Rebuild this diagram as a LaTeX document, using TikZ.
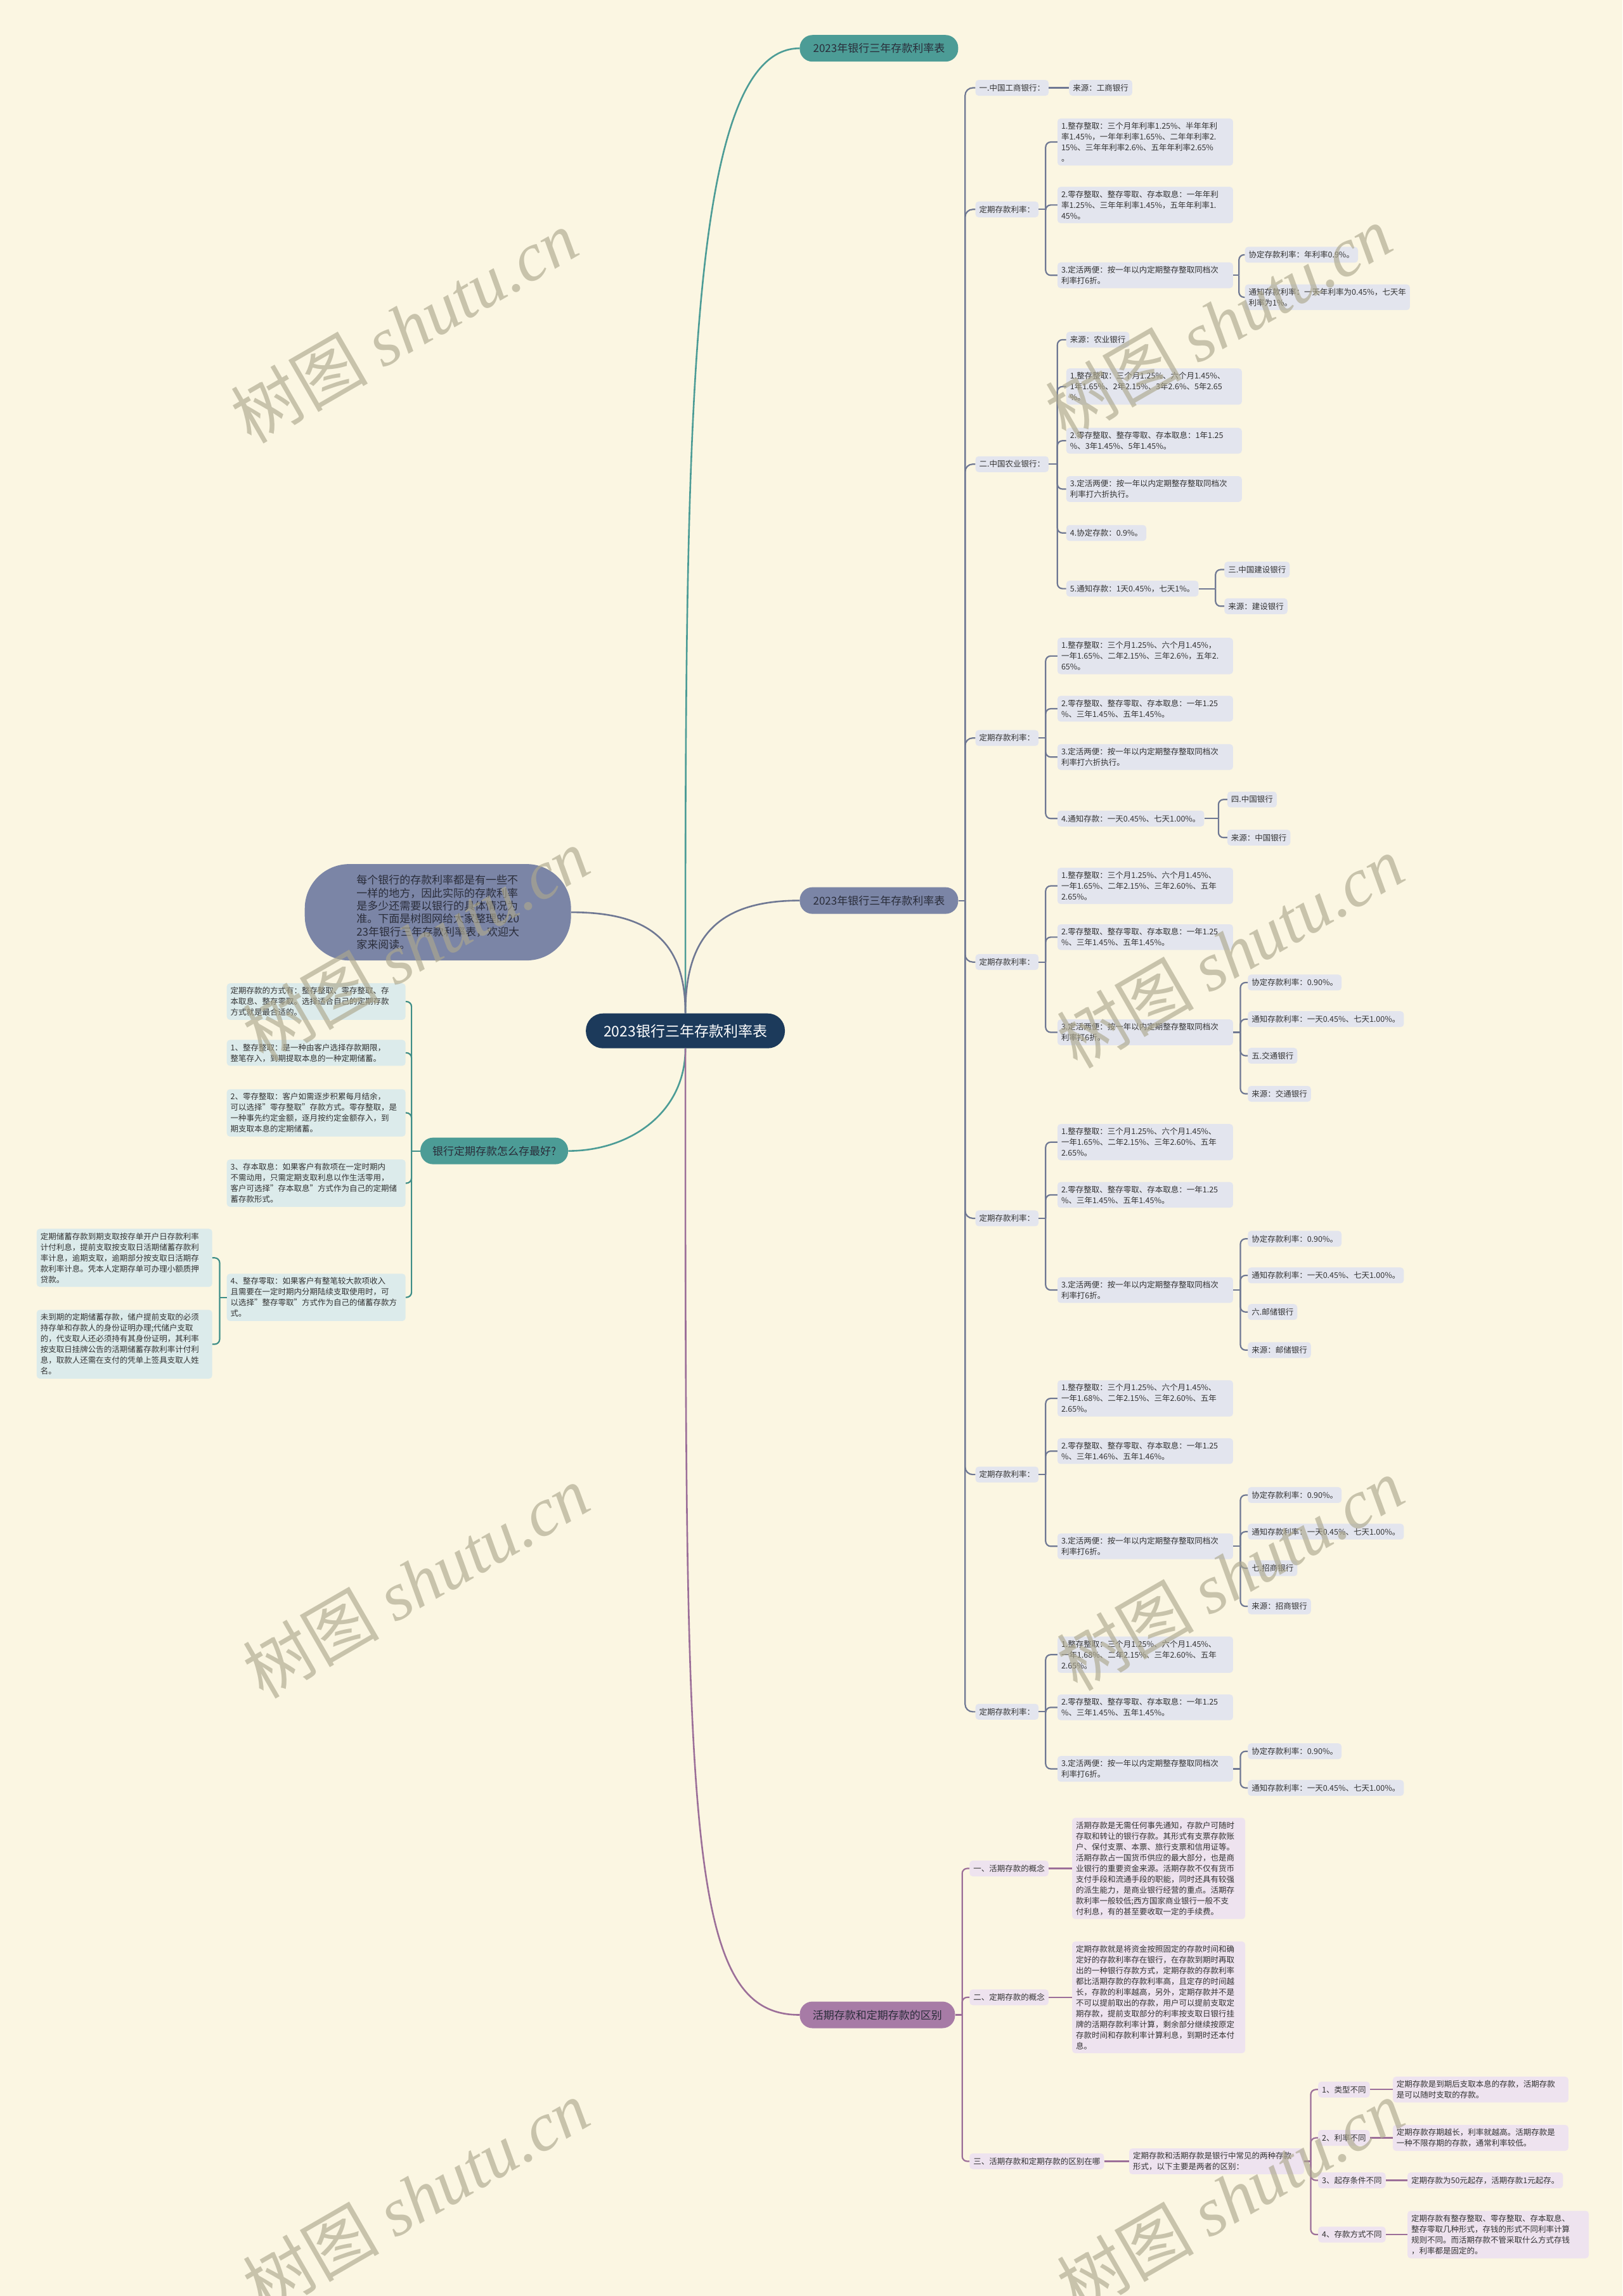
\documentclass[tikz,border=0pt]{standalone}
\usepackage{fontspec}
\setmainfont{Noto Sans CJK SC}
\newfontfamily\wmlat{Liberation Serif}
\definecolor{bgc}{HTML}{FBF6E2}
\definecolor{navy}{HTML}{1C3A5B}
\definecolor{cTeal}{HTML}{4C9C96}
\definecolor{cSlate}{HTML}{7B85A6}
\definecolor{cPurp}{HTML}{A77BA6}
\definecolor{lBlue}{HTML}{E3E5EE}
\definecolor{lPurp}{HTML}{EEE3EF}
\definecolor{lTeal}{HTML}{DCEBEB}
\definecolor{lnBlue}{HTML}{6F7893}
\definecolor{lnPurp}{HTML}{9C6F99}
\definecolor{lnTeal}{HTML}{3E8E88}
\definecolor{txt}{HTML}{333333}
\definecolor{brtxt}{HTML}{2A2D3A}
\definecolor{wm}{HTML}{ADA88E}
\begin{document}
\begin{tikzpicture}[x=2.3105pt,y=-2.3105pt,
  every node/.style={inner sep=0pt},
  base/.style={font=\fontsize{12.5}{17}\selectfont, text=txt, rounded corners=5pt, inner xsep=6pt, inner ysep=6pt, minimum height=25pt, align=left},
  bl/.style={base, fill=lBlue, anchor=west},
  pl/.style={base, fill=lPurp, anchor=west},
  tl/.style={base, fill=lTeal, anchor=east},
  tw/.style={text width=#1pt},
  cb/.style={draw=lnBlue, line width=2.2pt, rounded corners=8pt},
  cp/.style={draw=lnPurp, line width=2.2pt, rounded corners=8pt},
  ct/.style={draw=lnTeal, line width=2.2pt, rounded corners=8pt},
  br/.style={font=\fontsize{17}{20}\selectfont, text=brtxt, rounded corners=20pt, minimum height=42pt, inner xsep=18pt, anchor=west},
  wmark/.style={rotate=30, text=wm, text opacity=0.65, font=\fontsize{108}{108}\selectfont},
]
\fill[bgc] (0,0) rectangle (1108,1568);
\useasboundingbox (0,0) rectangle (1108,1568);

% ---------- root and main branches ----------
\node[fill=navy, text=white, font=\fontsize{23}{26}\selectfont, rounded corners=27pt, minimum width=314pt, minimum height=55pt] (root) at (468,704) {2023银行三年存款利率表};
\node[br, fill=cTeal, minimum width=250pt] (b1) at (546,33) {2023年银行三年存款利率表};
\node[br, fill=cSlate, minimum width=250pt] (b2) at (546,615) {2023年银行三年存款利率表};
\node[br, fill=cPurp, minimum width=245pt] (b3) at (546,1376) {活期存款和定期存款的区别};
\node[br, fill=cTeal, anchor=east, minimum width=233pt] (lb) at (388,786) {银行定期存款怎么存最好?};
\node[fill=cSlate, text=brtxt, font=\fontsize{17}{20.3}\selectfont, rounded corners=70pt, minimum width=420pt, minimum height=152pt, align=left] (intro) at (299,623) {每个银行的存款利率都是有一些不\\一样的地方，因此实际的存款利率\\是多少还需要以银行的具体情况为\\准。下面是树图网给大家整理的20\\23年银行三年存款利率表，欢迎大\\家来阅读。};

\draw[cTeal, line width=2.6pt] (root.north) .. controls (468,300) and (468,33) .. (b1.west);
\draw[lnBlue, line width=2.6pt] (root.north) .. controls (468,640) and (490,615) .. (b2.west);
\draw[lnBlue, line width=2.6pt] (root.north) .. controls (468,640) and (440,623) .. (intro.east);
\draw[cTeal, line width=2.6pt] (root.south) .. controls (468,760) and (430,786) .. (lb.east);
\draw[lnPurp, line width=2.6pt] (root.south) .. controls (468,1250) and (468,1376) .. (b3.west);

% ---------- branch 2 ----------
\node[bl] (A1) at (666,60) {一.中国工商银行：};
\node[bl] (A1a) at (730,60) {来源：工商银行};
\node[bl] (A2) at (666,143) {定期存款利率：};
\node[bl,tw=265] (A2a) at (722,97) {1.整存整取：三个月年利率1.25\%、半年年利\\率1.45\%，一年年利率1.65\%、二年年利率2.\\15\%、三年年利率2.6\%、五年年利率2.65\%\\。};
\node[bl,tw=265] (A2b) at (722,140) {2.零存整取、整存零取、存本取息：一年年利\\率1.25\%、三年年利率1.45\%，五年年利率1.\\45\%。};
\node[bl,tw=265] (A2c) at (722,188) {3.定活两便：按一年以内定期整存整取同档次\\利率打6折。};
\node[bl] (A2c1) at (850,174) {协定存款利率：年利率0.9\%。};
\node[bl] (A2c2) at (850,203) {通知存款利率：一天年利率为0.45\%，七天年\\利率为1\%。};

\node[bl] (A3) at (666,317) {二.中国农业银行：};
\node[bl] (A3a) at (728,232) {来源：农业银行};
\node[bl,tw=265] (A3b) at (728,264) {1.整存整取：三个月1.25\%、六个月1.45\%、\\1年1.65\%、2年2.15\%、3年2.6\%、5年2.65\\\%。};
\node[bl,tw=265] (A3c) at (728,301) {2.零存整取、整存零取、存本取息：1年1.25\\\%、3年1.45\%、5年1.45\%。};
\node[bl,tw=265] (A3d) at (728,334) {3.定活两便：按一年以内定期整存整取同档次\\利率打六折执行。};
\node[bl] (A3e) at (728,364) {4.协定存款：0.9\%。};
\node[bl] (A3f) at (728,402) {5.通知存款：1天0.45\%，七天1\%。};
\node[bl] (A3f1) at (836,389) {三.中国建设银行};
\node[bl] (A3f2) at (836,414) {来源：建设银行};

\node[bl] (A4) at (666,504) {定期存款利率：};
\node[bl,tw=265] (A4a) at (722,448) {1.整存整取：三个月1.25\%、六个月1.45\%，\\一年1.65\%、二年2.15\%、三年2.6\%，五年2.\\65\%。};
\node[bl,tw=265] (A4b) at (722,484) {2.零存整取、整存零取、存本取息：一年1.25\\\%、三年1.45\%、五年1.45\%。};
\node[bl,tw=265] (A4c) at (722,517) {3.定活两便：按一年以内定期整存整取同档次\\利率打六折执行。};
\node[bl] (A4d) at (722,559) {4.通知存款：一天0.45\%、七天1.00\%。};
\node[bl] (A4d1) at (838,546) {四.中国银行};
\node[bl] (A4d2) at (838,572) {来源：中国银行};

\node[bl] (A5) at (666,657) {定期存款利率：};
\node[bl,tw=265] (A5a) at (722,605) {1.整存整取：三个月1.25\%、六个月1.45\%、\\一年1.65\%、二年2.15\%、三年2.60\%、五年\\2.65\%。};
\node[bl,tw=265] (A5b) at (722,640) {2.零存整取、整存零取、存本取息：一年1.25\\\%、三年1.45\%、五年1.45\%。};
\node[bl,tw=265] (A5c) at (722,705) {3.定活两便：按一年以内定期整存整取同档次\\利率打6折。};
\node[bl] (A5c1) at (852,671) {协定存款利率：0.90\%。};
\node[bl] (A5c2) at (852,696) {通知存款利率：一天0.45\%、七天1.00\%。};
\node[bl] (A5c3) at (852,721) {五.交通银行};
\node[bl] (A5c4) at (852,747) {来源：交通银行};

\node[bl] (A6) at (666,832) {定期存款利率：};
\node[bl,tw=265] (A6a) at (722,780) {1.整存整取：三个月1.25\%、六个月1.45\%、\\一年1.65\%、二年2.15\%、三年2.60\%、五年\\2.65\%。};
\node[bl,tw=265] (A6b) at (722,816) {2.零存整取、整存零取、存本取息：一年1.25\\\%、三年1.45\%、五年1.45\%。};
\node[bl,tw=265] (A6c) at (722,881) {3.定活两便：按一年以内定期整存整取同档次\\利率打6折。};
\node[bl] (A6c1) at (852,846) {协定存款利率：0.90\%。};
\node[bl] (A6c2) at (852,871) {通知存款利率：一天0.45\%、七天1.00\%。};
\node[bl] (A6c3) at (852,896) {六.邮储银行};
\node[bl] (A6c4) at (852,922) {来源：邮储银行};

\node[bl] (A7) at (666,1007) {定期存款利率：};
\node[bl,tw=265] (A7a) at (722,955) {1.整存整取：三个月1.25\%、六个月1.45\%、\\一年1.68\%、二年2.15\%、三年2.60\%、五年\\2.65\%。};
\node[bl,tw=265] (A7b) at (722,991) {2.零存整取、整存零取、存本取息：一年1.25\\\%、三年1.46\%、五年1.46\%。};
\node[bl,tw=265] (A7c) at (722,1056) {3.定活两便：按一年以内定期整存整取同档次\\利率打6折。};
\node[bl] (A7c1) at (852,1021) {协定存款利率：0.90\%。};
\node[bl] (A7c2) at (852,1046) {通知存款利率：一天0.45\%、七天1.00\%。};
\node[bl] (A7c3) at (852,1071) {七.招商银行};
\node[bl] (A7c4) at (852,1097) {来源：招商银行};

\node[bl] (A8) at (666,1169) {定期存款利率：};
\node[bl,tw=265] (A8a) at (722,1130) {1.整存整取：三个月1.25\%、六个月1.45\%、\\一年1.68\%、二年2.15\%、三年2.60\%、五年\\2.65\%。};
\node[bl,tw=265] (A8b) at (722,1166) {2.零存整取、整存零取、存本取息：一年1.25\\\%、三年1.45\%、五年1.45\%。};
\node[bl,tw=265] (A8c) at (722,1208) {3.定活两便：按一年以内定期整存整取同档次\\利率打6折。};
\node[bl] (A8c1) at (852,1196) {协定存款利率：0.90\%。};
\node[bl] (A8c2) at (852,1221) {通知存款利率：一天0.45\%、七天1.00\%。};

\coordinate (j2) at (659,615);
\draw[cb] (b2.east) -- (j2);
\foreach \n in {A1,A2,A3,A4,A5,A6,A7,A8} \draw[cb, rounded corners=12pt] (j2) |- (\n.west);
\draw[cb] (A1.east) -- (A1a.west);
\coordinate (jA2) at (714,143); \draw[cb] (A2.east) -- (jA2);
\foreach \n in {A2a,A2b,A2c} \draw[cb] (jA2) |- (\n.west);
\coordinate (jA2c) at (846,188); \draw[cb] (A2c.east) -- (jA2c);
\foreach \n in {A2c1,A2c2} \draw[cb] (jA2c) |- (\n.west);
\coordinate (jA3) at (722,317); \draw[cb] (A3.east) -- (jA3);
\foreach \n in {A3a,A3b,A3c,A3d,A3e,A3f} \draw[cb] (jA3) |- (\n.west);
\coordinate (jA3f) at (830,402); \draw[cb] (A3f.east) -- (jA3f);
\foreach \n in {A3f1,A3f2} \draw[cb] (jA3f) |- (\n.west);
\coordinate (jA4) at (714,504); \draw[cb] (A4.east) -- (jA4);
\foreach \n in {A4a,A4b,A4c,A4d} \draw[cb] (jA4) |- (\n.west);
\coordinate (jA4d) at (832,559); \draw[cb] (A4d.east) -- (jA4d);
\foreach \n in {A4d1,A4d2} \draw[cb] (jA4d) |- (\n.west);
\coordinate (jA5) at (714,657); \draw[cb] (A5.east) -- (jA5);
\foreach \n in {A5a,A5b,A5c} \draw[cb] (jA5) |- (\n.west);
\coordinate (jA5c) at (847,705); \draw[cb] (A5c.east) -- (jA5c);
\foreach \n in {A5c1,A5c2,A5c3,A5c4} \draw[cb] (jA5c) |- (\n.west);
\coordinate (jA6) at (714,832); \draw[cb] (A6.east) -- (jA6);
\foreach \n in {A6a,A6b,A6c} \draw[cb] (jA6) |- (\n.west);
\coordinate (jA6c) at (847,881); \draw[cb] (A6c.east) -- (jA6c);
\foreach \n in {A6c1,A6c2,A6c3,A6c4} \draw[cb] (jA6c) |- (\n.west);
\coordinate (jA7) at (714,1007); \draw[cb] (A7.east) -- (jA7);
\foreach \n in {A7a,A7b,A7c} \draw[cb] (jA7) |- (\n.west);
\coordinate (jA7c) at (847,1056); \draw[cb] (A7c.east) -- (jA7c);
\foreach \n in {A7c1,A7c2,A7c3,A7c4} \draw[cb] (jA7c) |- (\n.west);
\coordinate (jA8) at (714,1169); \draw[cb] (A8.east) -- (jA8);
\foreach \n in {A8a,A8b,A8c} \draw[cb] (jA8) |- (\n.west);
\coordinate (jA8c) at (847,1208); \draw[cb] (A8c.east) -- (jA8c);
\foreach \n in {A8c1,A8c2} \draw[cb] (jA8c) |- (\n.west);

% ---------- branch 3 ----------
\node[pl] (B1) at (662,1276) {一、活期存款的概念};
\node[pl,tw=261] (B1a) at (732,1276) {活期存款是无需任何事先通知，存款户可随时\\存取和转让的银行存款。其形式有支票存款账\\户、保付支票、本票、旅行支票和信用证等。\\活期存款占一国货币供应的最大部分，也是商\\业银行的重要资金来源。活期存款不仅有货币\\支付手段和流通手段的职能，同时还具有较强\\的派生能力，是商业银行经营的重点。活期存\\款利率一般较低;西方国家商业银行一般不支\\付利息，有的甚至要收取一定的手续费。};
\node[pl] (B2) at (662,1364) {二、定期存款的概念};
\node[pl,tw=261] (B2a) at (732,1364) {定期存款就是将资金按照固定的存款时间和确\\定好的存款利率存在银行，在存款到期时再取\\出的一种银行存款方式，定期存款的存款利率\\都比活期存款的存款利率高，且定存的时间越\\长，存款的利率越高，另外，定期存款并不是\\不可以提前取出的存款，用户可以提前支取定\\期存款，提前支取部分的利率按支取日银行挂\\牌的活期存款利率计算，剩余部分继续按原定\\存款时间和存款利率计算利息，到期时还本付\\息。};
\node[pl] (B3) at (662,1476) {三、活期存款和定期存款的区别在哪};
\node[pl,tw=264] (B3a) at (771,1476) {定期存款和活期存款是银行中常见的两种存款\\形式，以下主要是两者的区别：};
\node[pl] (B3a1) at (900,1427) {1、类型不同};
\node[pl,tw=265] (B3a1t) at (951,1427) {定期存款是到期后支取本息的存款，活期存款\\是可以随时支取的存款。};
\node[pl] (B3a2) at (900,1460) {2、利率不同};
\node[pl,tw=265] (B3a2t) at (951,1460) {定期存款存期越长，利率就越高。活期存款是\\一种不限存期的存款，通常利率较低。};
\node[pl] (B3a3) at (900,1489) {3、起存条件不同};
\node[pl] (B3a3t) at (961,1489) {定期存款为50元起存，活期存款1元起存。};
\node[pl] (B3a4) at (900,1526) {4、存款方式不同};
\node[pl,tw=274] (B3a4t) at (961,1526) {定期存款有整存整取、零存整取、存本取息、\\整存零取几种形式，存钱的形式不同利率计算\\规则不同。而活期存款不管采取什么方式存钱\\，利率都是固定的。};

\coordinate (j3) at (657,1376);
\draw[cp] (b3.east) -- (j3);
\foreach \n in {B1,B2,B3} \draw[cp] (j3) |- (\n.west);
\draw[cp] (B1.east) -- (B1a.west);
\draw[cp] (B2.east) -- (B2a.west);
\draw[cp] (B3.east) -- (B3a.west);
\coordinate (jB3a) at (895,1476); \draw[cp] (B3a.east) -- (jB3a);
\foreach \n in {B3a1,B3a2,B3a3,B3a4} \draw[cp] (jB3a) |- (\n.west);
\draw[cp] (B3a1.east) -- (B3a1t.west);
\draw[cp] (B3a2.east) -- (B3a2t.west);
\draw[cp] (B3a3.east) -- (B3a3t.west);
\draw[cp] (B3a4.east) -- (B3a4t.west);

% ---------- left branch ----------
\node[tl,tw=270] (L1) at (277,684) {定期存款的方式有：整存整取、零存整取、存\\本取息、整存零取。选择适合自己的定期存款\\方式就是最合适的。};
\node[tl,tw=270] (L2) at (277,719) {1、整存整取：是一种由客户选择存款期限，\\整笔存入，到期提取本息的一种定期储蓄。};
\node[tl,tw=270] (L3) at (277,760) {2、零存整取：客户如需逐步积累每月结余，\\可以选择"零存整取"存款方式。零存整取，是\\一种事先约定金额，逐月按约定金额存入，到\\期支取本息的定期储蓄。};
\node[tl,tw=270] (L4) at (277,808) {3、存本取息：如果客户有款项在一定时期内\\不需动用，只需定期支取利息以作生活零用，\\客户可选择"存本取息"方式作为自己的定期储\\蓄存款形式。};
\node[tl,tw=270] (L5) at (277,886) {4、整存零取：如果客户有整笔较大款项收入\\且需要在一定时期内分期陆续支取使用时，可\\以选择"整存零取"方式作为自己的储蓄存款方\\式。};
\node[tl,tw=265] (L5a) at (145,859) {定期储蓄存款到期支取按存单开户日存款利率\\计付利息，提前支取按支取日活期储蓄存款利\\率计息，逾期支取，逾期部分按支取日活期存\\款利率计息。凭本人定期存单可办理小额质押\\贷款。};
\node[tl,tw=265] (L5b) at (145,918) {未到期的定期储蓄存款，储户提前支取的必须\\持存单和存款人的身份证明办理;代储户支取\\的，代支取人还必须持有其身份证明，其利率\\按支取日挂牌公告的活期储蓄存款利率计付利\\息，取款人还需在支付的凭单上签具支取人姓\\名。};

\coordinate (jL) at (281,786);
\draw[ct] (lb.west) -- (jL);
\foreach \n in {L1,L2,L3,L4,L5} \draw[ct] (jL) |- (\n.east);
\coordinate (jL5) at (150,886);
\draw[ct] (L5.west) -- (jL5);
\foreach \n in {L5a,L5b} \draw[ct] (jL5) |- (\n.east);

% ---------- watermarks ----------
\foreach \x/\y [count=\i] in {276/223,832/220,284/645,840/650,284/1080,840/1075,284/1500,840/1500}
  \node[wmark] (wm\i) at (\x,\y) {树图~{\wmlat\itshape shutu.cn}};
\end{tikzpicture}
\end{document}
